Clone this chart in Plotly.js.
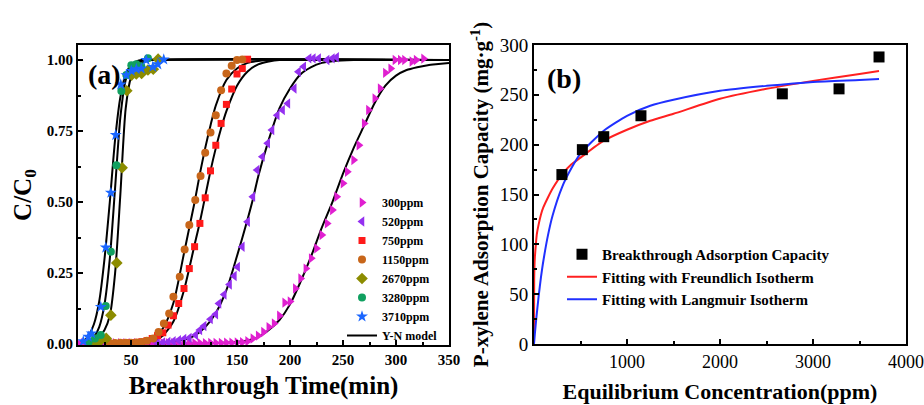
<!DOCTYPE html>
<html>
<head>
<meta charset="utf-8">
<script src="https://cdn.plot.ly/plotly-3.0.1.min.js"></script>
<style>html,body{margin:0;padding:0;background:#fff;}#chart{width:924px;height:405px;}</style>
</head>
<body>
<div id="chart"></div>
<script>
// ---------- Panel (a): breakthrough data ----------
const seriesNames = ["300ppm","520ppm","750ppm","1150ppm","2670ppm","3280ppm","3710ppm"];

const t300 = [0,5,10,15,20,25,30,35,40,45,50,55,60,65,70,75,80,85,90,95,100,105,110,115,120,125,130,135,140,145,150,155,160,165,170,175,180,185,190,195,200,205,210,215,220,225,230,235,240,244,250,254,260,265,270,274,280,285,290,295,299,304,308,315,319,326];
const v300 = [0.003,0.003,0.003,0.003,0.003,0.003,0.003,0.003,0.003,0.003,0.003,0.003,0.003,0.003,0.003,0.003,0.003,0.003,0.003,0.003,0.003,0.003,0.003,0.003,0.003,0.004,0.004,0.004,0.005,0.005,0.006,0.007,0.01,0.02,0.03,0.043,0.06,0.073,0.1,0.146,0.15,0.196,0.231,0.266,0.302,0.337,0.384,0.425,0.472,0.519,0.566,0.607,0.648,0.70,0.777,0.824,0.865,0.90,0.955,0.97,1.0,1.0,1.0,0.995,1.0,1.005];

const t520 = [75,80,85,90,95,100,105,111,115,119,125,130,133,138,143,147.5,150.6,155,160,165,169,174,179,183,188,193,198,204,208,213,218,222,227,235,240,244];
const v520 = [0.005,0.006,0.008,0.01,0.014,0.018,0.022,0.032,0.05,0.064,0.088,0.105,0.143,0.175,0.21,0.24,0.272,0.343,0.431,0.519,0.613,0.66,0.707,0.754,0.806,0.824,0.847,0.90,0.959,0.977,1.006,1.006,1.006,1.0,1.006,1.01];

const t750 = [45,50,55,60,65,70,75,80,85,90,95,100,105,110,115,120,125,130,135,140,145,150,155,160];
const v750 = [0.004,0.005,0.006,0.008,0.012,0.02,0.03,0.04,0.067,0.10,0.143,0.196,0.266,0.343,0.425,0.515,0.61,0.70,0.777,0.844,0.898,0.951,0.97,1.003];

const t1150 = [30,35,40,45,50,55,60,65,71,76,81,86,90,96,100.6,105,110.6,115.6,120,125,130,135,140,145,150,155];
const v1150 = [0.004,0.004,0.005,0.005,0.005,0.006,0.008,0.012,0.02,0.043,0.073,0.108,0.167,0.237,0.333,0.419,0.507,0.592,0.674,0.745,0.806,0.894,0.953,0.98,1.0,1.002];

const t2670 = [15,20,26.6,31,36.6,41.6,46,50.6,55,60,66,71,75.6];
const v2670 = [0.005,0.008,0.02,0.102,0.286,0.621,0.892,0.947,0.951,0.953,0.965,0.968,1.003];

const t3280 = [10,16,21.5,26.2,31,36.2,40.9,45.6,50.3,55,59.7,66];
const v3280 = [0.008,0.02,0.032,0.134,0.325,0.63,0.891,0.947,0.982,0.985,0.978,1.006];

const t3710 = [5,9.7,12.8,21.5,26.2,31,35.6,40.3,45.6,50.3,55,59.7,64.3,70.6,75.3,80.9];
const v3710 = [0.01,0.026,0.038,0.131,0.34,0.533,0.736,0.914,0.947,0.962,0.968,0.97,1.0,0.976,0.985,1.002];

// Y-N model curves
const ynT3710 = [0,5,10,15,20,25,30,35,40,45,50,55,60,350];
const ynV3710 = [0.003,0.01,0.03,0.07,0.15,0.30,0.50,0.72,0.87,0.95,0.983,0.995,1.0,1.0];
const ynT3280 = [0,5,10,15,20,25,30,35,40,45,50,55,60,65,350];
const ynV3280 = [0.001,0.004,0.01,0.025,0.06,0.14,0.30,0.55,0.80,0.93,0.975,0.99,0.997,1.0,1.0];
const ynT2670 = [0,10,15,20,25,30,35,40,45,50,55,60,65,70,350];
const ynV2670 = [0,0.004,0.01,0.025,0.05,0.10,0.25,0.53,0.83,0.94,0.978,0.99,0.997,1.0,1.0];
const ynT1150 = [0,40,50,60,70,80,90,100,105,110,115,120,125,130,140,150,160,170,180,350];
const ynV1150 = [0,0.001,0.003,0.008,0.02,0.055,0.145,0.32,0.41,0.50,0.60,0.69,0.77,0.84,0.93,0.97,0.99,0.997,1.0,1.0];
const ynT750 = [0,40,60,70,80,90,100,110,115,120,125,130,135,140,150,160,170,180,190,350];
const ynV750 = [0,0.001,0.004,0.01,0.03,0.08,0.19,0.35,0.43,0.52,0.61,0.69,0.76,0.82,0.91,0.96,0.985,0.995,1.0,1.0];
const ynT520 = [0,60,80,100,110,120,130,140,150,160,165,170,180,190,200,210,220,230,240,260,350];
const ynV520 = [0,0.001,0.004,0.015,0.03,0.06,0.11,0.19,0.31,0.44,0.51,0.59,0.72,0.83,0.90,0.95,0.975,0.99,0.996,1.0,1.0];
const ynT300 = [0,100,130,150,160,170,180,190,200,210,220,230,240,250,260,270,280,290,300,310,320,330,340,350];
const ynV300 = [0,0.001,0.004,0.008,0.013,0.025,0.05,0.085,0.14,0.22,0.31,0.41,0.50,0.60,0.69,0.77,0.85,0.91,0.945,0.965,0.975,0.982,0.986,0.99];

const xTicksA = [50,100,150,200,250,300,350];
const yTicksA = [0,0.25,0.5,0.75,1.0];
const yTickTextA = ["0.00","0.25","0.50","0.75","1.00"];

// ---------- Panel (b): isotherm data ----------
const eqConc = [300,520,750,1150,2670,3280,3710];
const capacity = [170,195,208,229,251,256,288];
const freundX = [0,2,5,10,20,30,50,75,100,150,200,300,400,500,750,1000,1250,1500,2000,2500,3000,3500,3710];
const freundY = [0,65,78,88,100,110,120,130,137,147,156,170,180,187,204,215,224,231,246,256,264,271,274];
const langX = [0,10,25,50,75,100,150,200,300,400,500,750,1000,1250,1500,2000,2500,3000,3500,3710];
const langY = [0,11,26,48,67,83,109,129,157,176,191,214,229,239,245,254,259,263,265,266];
const xTicksB = [1000,2000,3000,4000];
const yTicksB = [0,50,100,150,200,250,300];

// ---------- build ----------
const FONT = "Liberation Serif, Times New Roman, serif";
const markerStyles = [
  {symbol:"triangle-right", color:"#e01fd0", size:9},
  {symbol:"triangle-left", color:"#9430f0", size:9},
  {symbol:"square", color:"#ff1a1a", size:7},
  {symbol:"circle", color:"#c8661a", size:8},
  {symbol:"diamond", color:"#8c8c00", size:9},
  {symbol:"circle", color:"#10a060", size:8},
  {symbol:"star", color:"#1a66ff", size:9}
];
const tData = [t300,t520,t750,t1150,t2670,t3280,t3710];
const vData = [v300,v520,v750,v1150,v2670,v3280,v3710];
const ynT = [ynT300,ynT520,ynT750,ynT1150,ynT2670,ynT3280,ynT3710];
const ynV = [ynV300,ynV520,ynV750,ynV1150,ynV2670,ynV3280,ynV3710];

const traces = [];
ynT.forEach((tt,i)=>{
  traces.push({x:tt, y:ynV[i], type:"scatter", mode:"lines", xaxis:"x", yaxis:"y",
    line:{color:"#000", width:2, shape:"spline", smoothing:0.7},
    name:"Y-N model", showlegend:i===0, legend:"legend", legendrank:8});
});
tData.forEach((tt,i)=>{
  traces.push({x:tt, y:vData[i], type:"scatter", mode:"markers", xaxis:"x", yaxis:"y",
    marker:{symbol:markerStyles[i].symbol, color:markerStyles[i].color, size:markerStyles[i].size, line:{width:0}},
    name:seriesNames[i], legend:"legend", legendrank:i+1});
});
traces.push({x:freundX, y:freundY, type:"scatter", mode:"lines", xaxis:"x2", yaxis:"y2",
  line:{color:"#ff2020", width:2, shape:"spline", smoothing:0.6}, name:"Fitting with Freundlich Isotherm", legend:"legend2", legendrank:2});
traces.push({x:langX, y:langY, type:"scatter", mode:"lines", xaxis:"x2", yaxis:"y2",
  line:{color:"#2030ff", width:2, shape:"spline", smoothing:0.6}, name:"Fitting with Langmuir Isotherm", legend:"legend2", legendrank:3});
traces.push({x:eqConc, y:capacity, type:"scatter", mode:"markers", xaxis:"x2", yaxis:"y2",
  marker:{symbol:"square", color:"#000", size:11}, name:"Breakthrough Adsorption Capacity", legend:"legend2", legendrank:1});

const axisCommon = {showline:true, mirror:true, linecolor:"#000", linewidth:2, ticks:"inside", ticklen:5, tickwidth:2, tickcolor:"#000", showgrid:false, zeroline:false};

const layout = {
  width:924, height:405, margin:{l:0,r:0,t:0,b:0}, paper_bgcolor:"#fff", plot_bgcolor:"#fff",
  font:{family:FONT, color:"#000"},
  xaxis: Object.assign({}, axisCommon, {domain:[78/924, 449/924], range:[0,350], tickvals:xTicksA,
    tickfont:{family:FONT, size:15, weight:"bold"}, minor:{ticks:"inside", ticklen:3, tickwidth:2, tickcolor:"#000", dtick:25, tick0:0},
    title:{text:"Breakthrough Time(min)", font:{family:FONT, size:25, weight:"bold"}, standoff:9}}),
  yaxis: Object.assign({}, axisCommon, {domain:[1-345/405, 1-45/405], range:[-0.003,1.053], tickvals:yTicksA, ticktext:yTickTextA,
    tickfont:{family:FONT, size:15, weight:"bold"}, minor:{ticks:"inside", ticklen:3, tickwidth:2, tickcolor:"#000", dtick:0.125, tick0:0},
    title:{text:"C/C<sub>0</sub>", font:{family:FONT, size:25, weight:"bold"}, standoff:8}}),
  xaxis2: Object.assign({}, axisCommon, {domain:[534/924, 906/924], range:[0,4000], tickvals:xTicksB, anchor:"y2",
    tickfont:{family:FONT, size:18}, minor:{ticks:"inside", ticklen:3, tickwidth:2, tickcolor:"#000", dtick:500, tick0:0},
    title:{text:"Equilibrium Concentration(ppm)", font:{family:FONT, size:22, weight:"bold"}, standoff:13}}),
  yaxis2: Object.assign({}, axisCommon, {domain:[1-344/405, 1-45/405], range:[0,300], tickvals:yTicksB, anchor:"x2",
    tickfont:{family:FONT, size:19}, minor:{ticks:"inside", ticklen:3, tickwidth:2, tickcolor:"#000", dtick:25, tick0:0},
    title:{text:"P-xylene Adsorption Capacity (mg·g<sup>-1</sup>)", font:{family:FONT, size:21, weight:"bold"}, standoff:5}}),
  legend:{x:342/924, y:1-188/405, xanchor:"left", yanchor:"top", bgcolor:"rgba(0,0,0,0)", borderwidth:0,
    font:{family:FONT, size:12, weight:"bold"}, tracegroupgap:0, itemsizing:"trace"},
  legend2:{x:562/924, y:1-238/405, xanchor:"left", yanchor:"top", bgcolor:"rgba(0,0,0,0)", borderwidth:0,
    font:{family:FONT, size:15, weight:"bold"}, tracegroupgap:0},
  annotations:[
    {text:"(a)", xref:"paper", yref:"paper", x:86/924, y:1-75/405, xanchor:"left", yanchor:"middle", showarrow:false, font:{family:FONT, size:28, weight:"bold"}},
    {text:"(b)", xref:"paper", yref:"paper", x:545/924, y:1-78/405, xanchor:"left", yanchor:"middle", showarrow:false, font:{family:FONT, size:28, weight:"bold"}}
  ]
};

Plotly.newPlot("chart", traces, layout, {displayModeBar:false, staticPlot:true});
</script>
</body>
</html>
